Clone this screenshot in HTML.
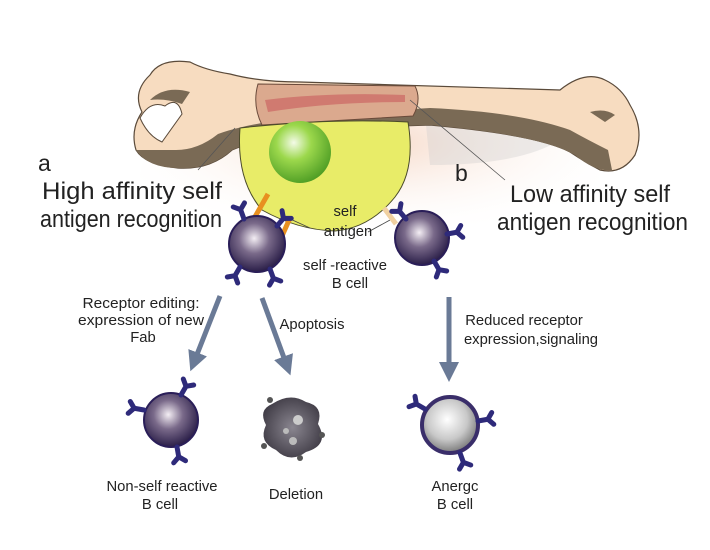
<!DOCTYPE html>
<html><head><meta charset="utf-8"><style>
html,body{margin:0;padding:0;background:#fff;}
svg{display:block;font-family:"Liberation Sans",sans-serif;}
</style></head><body>
<svg width="710" height="550" viewBox="0 0 710 550" xmlns="http://www.w3.org/2000/svg">
<defs>
<radialGradient id="sh" cx="0.5" cy="0.3" r="0.6"><stop offset="0" stop-color="#f6d9c8"/><stop offset="1" stop-color="#fff" stop-opacity="0"/></radialGradient>
<radialGradient id="gn" cx="0.4" cy="0.35" r="0.7"><stop offset="0" stop-color="#f4fbe8"/><stop offset="0.4" stop-color="#9cd84c"/><stop offset="1" stop-color="#4a9a22"/></radialGradient>
<radialGradient id="pc" cx="0.45" cy="0.4" r="0.6"><stop offset="0" stop-color="#f4eef4"/><stop offset="0.45" stop-color="#7a6a8a"/><stop offset="1" stop-color="#2a1e48"/></radialGradient>
<radialGradient id="gc" cx="0.45" cy="0.4" r="0.6"><stop offset="0" stop-color="#ffffff"/><stop offset="0.6" stop-color="#c8c8c8"/><stop offset="1" stop-color="#7a7a7a"/></radialGradient>
<radialGradient id="dc" cx="0.5" cy="0.5" r="0.6"><stop offset="0" stop-color="#8a8690"/><stop offset="1" stop-color="#3a3640"/></radialGradient>
<marker id="ar" markerWidth="4" markerHeight="4" refX="2" refY="2" orient="auto"><path d="M0,0 L4,2 L0,4 z" fill="#6a7a96"/></marker>
<g id="rc"><path d="M0,0 L0,-10 M0,-10 L-6,-15 M0,-10 L6,-15" stroke="#2e2a7a" stroke-width="5" fill="none" stroke-linecap="round"/></g>
</defs>
<ellipse cx="370" cy="175" rx="230" ry="80" fill="url(#sh)"/>
<path d="M425,115 Q500,125 560,140 Q520,165 430,165 z" fill="#ccc" opacity="0.35"/>
<path d="M150,75 Q160,58 190,62 Q205,70 230,74 Q260,82 300,82 L560,90 Q585,70 605,80 Q622,88 630,105 Q645,130 635,155 Q622,175 600,170 Q585,162 570,152 Q540,135 430,125 L330,128 Q260,138 232,150 Q210,170 178,168 Q145,165 136,150 Q130,130 142,112 Q132,92 150,75 z" fill="#f7dcc0" stroke="#5a4a3a" stroke-width="1.2"/>
<path d="M140,118 Q150,100 165,106 Q178,96 182,114 L162,142 Q148,136 140,118z" fill="#fff" stroke="#5a4a3a" stroke-width="1"/>
<path d="M136,150 Q148,168 178,168 Q210,170 232,150 Q260,138 330,128 L430,125 Q540,135 575,155 Q595,172 612,170 L608,150 Q588,140 570,130 Q520,112 430,108 L330,114 Q250,122 218,134 Q198,150 176,150 Q150,150 136,150z" fill="#7a6a55"/>
<path d="M150,100 Q165,85 190,92 L182,104 Q165,98 150,100z" fill="#7a6a55"/>
<path d="M590,112 Q605,108 615,115 L605,122z" fill="#7a6a55"/>
<path d="M258,84 L415,86 Q422,100 413,116 L262,125 Q252,105 258,84z" fill="#dba98e" stroke="#6a4a3a" stroke-width="1"/>
<path d="M265,100 Q330,92 405,95 L405,102 Q330,102 268,112z" fill="#d07a70"/>
<path d="M240,128 Q330,118 408,122 Q416,170 395,197 Q370,228 335,231 Q298,230 262,210 Q236,180 240,128z" fill="#e8ec68" stroke="#4a4a2a" stroke-width="1"/>
<circle cx="300" cy="152" r="31" fill="url(#gn)"/>
<path d="M198,170 L235,128" stroke="#555" stroke-width="0.8"/>
<path d="M410,100 L505,180" stroke="#555" stroke-width="0.8"/>
<path d="M288,218 L310,228 M368,232 L390,220" stroke="#444" stroke-width="0.8"/>
<path d="M268,194 L252,222 M290,218 L282,236" stroke="#e89020" stroke-width="5"/>
<path d="M384,208 L396,224" stroke="#f0d0a0" stroke-width="5"/>
<circle cx="257" cy="244" r="28" fill="url(#pc)" stroke="#2a1e58" stroke-width="2"/>
<use href="#rc" transform="translate(244,219) rotate(-20)"/>
<use href="#rc" transform="translate(277,226) rotate(40)"/>
<use href="#rc" transform="translate(240,267) rotate(-150)"/>
<use href="#rc" transform="translate(270,269) rotate(160)"/>
<circle cx="422" cy="238" r="27" fill="url(#pc)" stroke="#2a1e58" stroke-width="2"/>
<use href="#rc" transform="translate(406,219) rotate(-40)"/>
<use href="#rc" transform="translate(447,234) rotate(80)"/>
<use href="#rc" transform="translate(434,261) rotate(150)"/>
<g stroke="#6a7a96" stroke-width="5" marker-end="url(#ar)">
<line x1="220" y1="296" x2="194" y2="362"/>
<line x1="262" y1="298" x2="287" y2="366"/>
<line x1="449" y1="297" x2="449" y2="372"/>
</g>
<circle cx="171" cy="420" r="27" fill="url(#pc)" stroke="#2a1e58" stroke-width="2"/>
<use href="#rc" transform="translate(181,395) rotate(30)"/>
<use href="#rc" transform="translate(144,410) rotate(-80)"/>
<use href="#rc" transform="translate(177,447) rotate(170)"/>
<path d="M272,404 Q290,392 306,402 Q324,406 318,424 Q330,445 306,452 Q290,464 276,450 Q258,442 266,425 Q258,410 272,404z" fill="url(#dc)"/>
<circle cx="270" cy="400" r="3" fill="#555"/><circle cx="322" cy="435" r="3" fill="#555"/><circle cx="264" cy="446" r="3" fill="#555"/><circle cx="300" cy="458" r="3" fill="#555"/>
<circle cx="298" cy="420" r="5" fill="#ccc"/><circle cx="286" cy="431" r="3" fill="#bbb"/><circle cx="293" cy="441" r="4" fill="#bbb"/>
<circle cx="450" cy="425" r="28" fill="url(#gc)" stroke="#3a2e6a" stroke-width="4"/>
<use href="#rc" transform="translate(425,409) rotate(-60)"/>
<use href="#rc" transform="translate(478,421) rotate(80)"/>
<use href="#rc" transform="translate(460,453) rotate(160)"/>
<g fill="#222" font-size="24">
<text x="38" y="171" font-size="23">a</text>
<text x="42" y="199" textLength="180" lengthAdjust="spacingAndGlyphs">High affinity self</text>
<text x="40" y="227" textLength="182" lengthAdjust="spacingAndGlyphs">antigen recognition</text>
<text x="455" y="181" font-size="23">b</text>
<text x="510" y="202" textLength="160" lengthAdjust="spacingAndGlyphs">Low affinity self</text>
<text x="497" y="230" textLength="191" lengthAdjust="spacingAndGlyphs">antigen recognition</text>
</g>
<g fill="#222" font-size="14.8" text-anchor="middle">
<text x="345" y="216">self</text>
<text x="348" y="236">antigen</text>
<text x="345" y="270">self -reactive</text>
<text x="350" y="288">B cell</text>
<text x="141" y="308" textLength="117" lengthAdjust="spacingAndGlyphs">Receptor editing:</text>
<text x="141" y="325" textLength="126" lengthAdjust="spacingAndGlyphs">expression of new</text>
<text x="143" y="342">Fab</text>
<text x="312" y="329">Apoptosis</text>
<text x="524" y="325">Reduced receptor</text>
<text x="531" y="344">expression,signaling</text>
<text x="162" y="491">Non-self reactive</text>
<text x="160" y="509">B cell</text>
<text x="296" y="499">Deletion</text>
<text x="455" y="491">Anergc</text>
<text x="455" y="509">B cell</text>
</g>
</svg>
</body></html>
